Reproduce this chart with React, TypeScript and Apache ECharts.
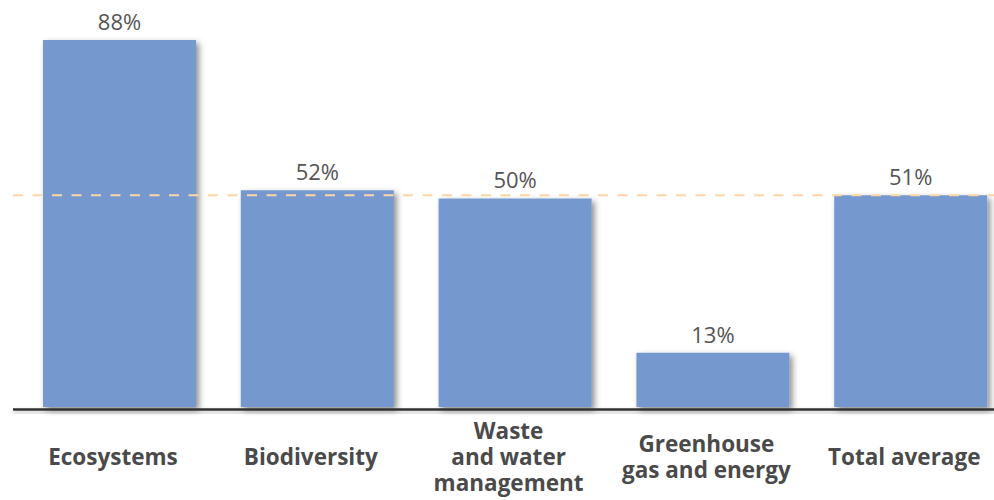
import React, { useEffect, useRef } from "react";
import * as echarts from "echarts";

const categories = [
  "Ecosystems",
  "Biodiversity",
  "Waste\nand water\nmanagement",
  "Greenhouse\ngas and energy",
  "Total average",
];
const values = [88, 52, 50, 13, 50.75];
const averageLine = 50.75;

export default function App() {
  const ref = useRef<HTMLDivElement>(null);
  useEffect(() => {
    if (!ref.current) return;
    const chart = echarts.init(ref.current, null, { renderer: "svg" });
    chart.setOption({
      animation: false,
      grid: {
        left: 20.6,
        width: 989,
        top: 40,
        bottom: 93,
        containLabel: false,
        outerBoundsMode: "none",
      },
      xAxis: {
        type: "category",
        data: categories,
        axisTick: { show: false },
        axisLine: { show: false },
        axisLabel: {
          interval: 0,
          margin: 49,
          verticalAlign: "middle",
          padding: [0, 13, 0, 0],
          fontFamily: "Open Sans",
          fontWeight: "bold",
          fontSize: 22.5,
          lineHeight: 26,
          color: "#4a4a4a",
        },
      },
      yAxis: {
        type: "value",
        min: 0,
        max: 88,
        show: false,
        splitLine: { show: false },
      },
      series: [
        {
          type: "bar",
          data: values,
          barWidth: 153,
          itemStyle: {
            color: "#7599CF",
            shadowColor: "rgba(0,0,0,0.45)",
            shadowBlur: 6,
            shadowOffsetX: 3,
            shadowOffsetY: 3,
          },
          label: {
            show: true,
            position: "top",
            distance: 8,
            formatter: (p: any) => Math.round(p.value) + "%",
            fontFamily: "Open Sans",
            fontSize: 22,
            color: "#555",
          },
        },
      ],
    });
    const yBase = chart.convertToPixel({ yAxisIndex: 0 }, 0) as number;
    const yAvg = chart.convertToPixel({ yAxisIndex: 0 }, averageLine) as number;
    chart.setOption({
      graphic: [
        {
          type: "line",
          z: 100,
          shape: { x1: 13, y1: yAvg, x2: 994, y2: yAvg },
          style: { stroke: "#FCD6A6", lineWidth: 2, lineDash: [10, 9.5] },
        },
        {
          type: "rect",
          z: 100,
          shape: { x: 13, y: yBase + 1.2, width: 985, height: 2.6 },
          style: {
            fill: "#333",
            shadowColor: "rgba(0,0,0,0.3)",
            shadowBlur: 5,
            shadowOffsetY: 3,
          },
        },
      ],
    });
    return () => chart.dispose();
  }, []);
  return <div ref={ref} style={{ width: 994, height: 500, position: "absolute", left: 0, top: 0 }} />;
}
